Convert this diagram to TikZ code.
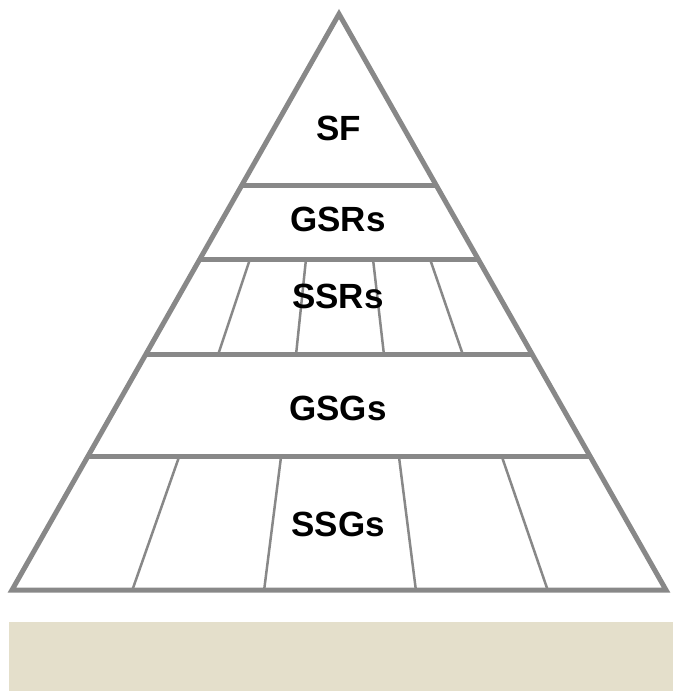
\documentclass[tikz,border=0pt]{standalone}
\usepackage{fontspec}
\setmainfont{Liberation Sans}
\usetikzlibrary{calc}
\definecolor{edge}{RGB}{136,136,136}
\definecolor{beige}{RGB}{228,223,203}
\begin{document}
\begin{tikzpicture}[x=1pt,y=-1pt,
  outer/.style={draw=edge,line width=5pt,line join=miter},
  band/.style={draw=edge,line width=5pt},
  divider/.style={draw=edge,line width=2.5pt},
  lbl/.style={font=\fontsize{35}{40}\selectfont\bfseries,text=black,inner sep=0pt}]
\useasboundingbox (0,0) rectangle (673,691);
\fill[beige] (9,622) rectangle (673,691);
\coordinate (A) at (339,14);
\coordinate (L) at (12,590);
\coordinate (R) at (666,590);
% bands
\foreach \t/\n in {0.2976/a,0.4256/b,0.5917/c,0.768/d}{
  \draw[band] ($(A)!\t!(L)$) -- ($(A)!\t!(R)$);
}
% SSR dividers
\draw[divider] (250,259) -- (218,355);
\draw[divider] (306,259) -- (296,355);
\draw[divider] (373,259) -- (384,355);
\draw[divider] (430,259) -- (463,355);
% SSG dividers
\draw[divider] (179,457) -- (132,591);
\draw[divider] (281,457) -- (264,591);
\draw[divider] (399,457) -- (416,591);
\draw[divider] (502,457) -- (548,591);
\draw[outer] (A) -- (L) -- (R) -- cycle;
\node[lbl] (sf) at (339,128) {SF};
\node[lbl] (gsrs) at (338,219) {GSRs};
\node[lbl] (ssrs) at (338,296) {SSRs};
\node[lbl] (gsgs) at (338,408) {GSGs};
\node[lbl] (ssgs) at (338,524) {SSGs};
\end{tikzpicture}
\end{document}
